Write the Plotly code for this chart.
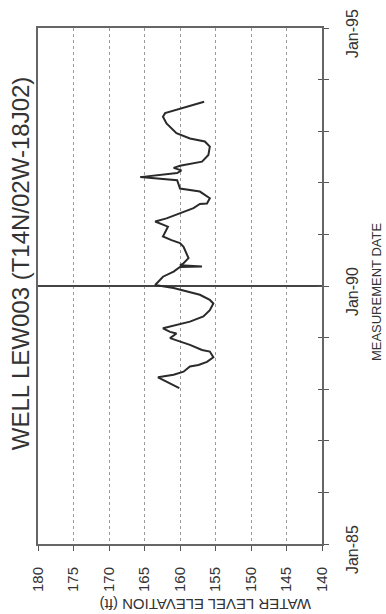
import plotly.graph_objects as go

# Measurement dates (decimal years) and water level elevations (ft)
meas_year = [
    1988.02, 1988.23, 1988.28, 1988.34, 1988.44, 1988.47, 1988.53, 1988.62,
    1988.73, 1988.76, 1988.86, 1988.92, 1988.99, 1989.08, 1989.11, 1989.18,
    1989.24, 1989.31, 1989.41, 1989.53, 1989.66, 1989.73, 1989.83, 1989.92,
    1989.96, 1990.02, 1990.18, 1990.28, 1990.37, 1990.38, 1990.40, 1990.44,
    1990.54, 1990.76, 1990.83, 1990.89, 1990.96, 1991.15, 1991.22, 1991.25,
    1991.31, 1991.41, 1991.51, 1991.59, 1991.60, 1991.70, 1991.83, 1991.89,
    1992.05, 1992.11, 1992.19, 1992.24, 1992.29, 1992.33, 1992.41, 1992.54,
    1992.70, 1992.80, 1992.86, 1992.96, 1993.15, 1993.28, 1993.35, 1993.57,
]
water_level = [
    160.1, 163.1, 160.9, 159.5, 158.6, 157.4, 156.2, 155.3,
    155.8, 156.9, 158.6, 160.0, 161.4, 160.5, 161.4, 162.4,
    160.5, 158.6, 156.7, 155.8, 155.3, 155.8, 157.2, 160.0,
    160.9, 163.5, 162.4, 160.9, 160.0, 156.9, 160.0, 159.5,
    158.8, 159.5, 160.0, 161.2, 162.4, 161.7, 162.8, 163.5,
    161.9, 160.0, 158.1, 157.2, 156.2, 155.8, 157.2, 160.0,
    160.4, 165.6, 160.4, 159.8, 160.9, 160.0, 156.9, 156.0,
    155.8, 156.5, 158.6, 160.5, 161.9, 162.4, 162.1, 156.6,
]

elev_ticks = [180, 175, 170, 165, 160, 155, 150, 145, 140]
date_ticks = [1985, 1990, 1995]
date_labels = ["Jan-85", "Jan-90", "Jan-95"]

FONT = "Liberation Sans, Arial, sans-serif"
INK = "#333333"

fig = go.Figure()
fig.add_trace(go.Scatter(
    x=water_level, y=meas_year, mode="lines",
    line=dict(color="#2a2a2a", width=2),
    showlegend=False, hoverinfo="skip",
))

fig.update_layout(
    width=386, height=614,
    margin=dict(l=38, r=64, t=28, b=70),
    paper_bgcolor="white", plot_bgcolor="white",
    font=dict(family=FONT, color=INK),
    xaxis=dict(
        range=[180, 140], tickvals=elev_ticks,
        ticktext=[str(v) for v in elev_ticks],
        tickangle=-90, tickfont=dict(size=15, color=INK),
        ticks="outside", ticklen=5, tickcolor="#555", ticklabelstandoff=10,
        showgrid=True, gridcolor="#9a9a9a", griddash="dot", gridwidth=1,
        showline=True, linecolor="#666", linewidth=2, mirror=True,
        zeroline=False, fixedrange=True, automargin=False,
    ),
    yaxis=dict(
        range=[1985, 1995], side="right", tickvals=date_ticks,
        showticklabels=False,
        ticks="outside", ticklen=5, tickcolor="#555",
        minor=dict(dtick=1, tick0=1985, ticks="outside", ticklen=5,
                   tickcolor="#555", showgrid=False),
        showgrid=True, gridcolor="#444", gridwidth=2,
        showline=True, linecolor="#666", linewidth=2, mirror=True,
        zeroline=False, fixedrange=True, automargin=False,
    ),
    yaxis2=dict(
        range=[1985, 1995], overlaying="y", side="right",
        tickvals=list(range(1985, 1996)), showticklabels=False,
        ticks="inside", ticklen=4, tickcolor="#555", showgrid=False,
        showline=False, zeroline=False, fixedrange=True, automargin=False,
    ),
)

# invisible trace so the inner tick marks of the date axis are drawn
fig.add_trace(go.Scatter(x=[None], y=[None], yaxis="y2", showlegend=False,
                         hoverinfo="skip"))

# rotated date labels, set just below their ticks
for yr, lab in zip(date_ticks, date_labels):
    fig.add_annotation(
        text=lab, textangle=-90, xref="paper", yref="y",
        x=1.106, y=yr, yshift=-6, xanchor="center", yanchor="middle",
        showarrow=False, font=dict(size=16, color=INK, family=FONT),
    )

fig.add_annotation(
    text="WELL LEW003 (T14N/02W-18J02)", textangle=-90,
    xref="paper", yref="paper", x=-0.062, y=0.545,
    xanchor="center", yanchor="middle",
    showarrow=False, font=dict(size=24, color=INK, family=FONT),
)
fig.add_annotation(
    text="MEASUREMENT DATE", textangle=-90,
    xref="paper", yref="paper", x=1.19, y=0.49,
    xanchor="center", yanchor="middle",
    showarrow=False, font=dict(size=13, color=INK, family=FONT),
)
fig.add_annotation(
    text="WATER LEVEL ELEVATION (ft)", textangle=180,
    xref="paper", yref="paper", x=0.588, y=-0.116,
    xanchor="center", yanchor="middle",
    showarrow=False, font=dict(size=15, color=INK, family=FONT),
)

fig.write_html("out.html")
